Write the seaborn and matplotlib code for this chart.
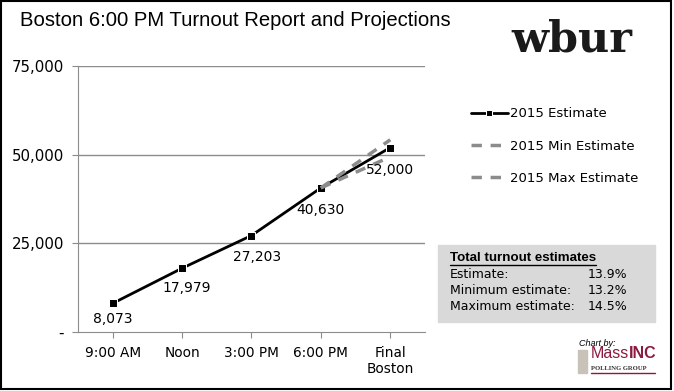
import pandas as pd
import numpy as np
import matplotlib.pyplot as plt
import seaborn as sns
from matplotlib.patches import Rectangle

# -----------------------------
# Data
# -----------------------------
times = ["9:00 AM", "Noon", "3:00 PM", "6:00 PM", "Final\nBoston"]
estimate = [8073, 17979, 27203, 40630, 52000]
labels = ["8,073", "17,979", "27,203", "40,630", "52,000"]
min_est = [40630, 49400]
max_est = [40630, 54200]
proj_times = ["6:00 PM", "Final\nBoston"]

box_rows = ["Estimate:", "Minimum estimate:", "Maximum estimate:"]
box_vals = ["13.9%", "13.2%", "14.5%"]

pos = {t: i for i, t in enumerate(times)}
df = pd.DataFrame({"x": [pos[t] for t in times], "turnout": estimate})
df_min = pd.DataFrame({"x": [pos[t] for t in proj_times], "turnout": min_est})
df_max = pd.DataFrame({"x": [pos[t] for t in proj_times], "turnout": max_est})

# -----------------------------
# Plot
# -----------------------------
sns.set_style("white")
plt.rcParams["font.family"] = ["DejaVu Sans"]
plt.rcParams["text.color"] = "black"
plt.rcParams["xtick.labelcolor"] = "black"
plt.rcParams["ytick.labelcolor"] = "black"
narrow = ["Liberation Sans", "DejaVu Sans"]

fig = plt.figure(figsize=(6.74, 3.91), dpi=100)
ax = fig.add_axes([78 / 674, 1 - 332 / 391, (425 - 78) / 674, (332 - 66) / 391])

sns.lineplot(data=df, x="x", y="turnout", ax=ax, color="black", lw=2,
             marker="s", markersize=6, label="2015 Estimate", zorder=2)
sns.lineplot(data=df_min, x="x", y="turnout", ax=ax, color="#8c8c8c",
             lw=2.5, label="2015 Min Estimate", zorder=3)
sns.lineplot(data=df_max, x="x", y="turnout", ax=ax, color="#8c8c8c",
             lw=2.5, label="2015 Max Estimate", zorder=3)
ax.lines[1].set_linestyle((0, (3, 2.5)))
ax.lines[2].set_linestyle((0, (3, 2.5)))

ax.set_xlim(-0.5, 4.5)
ax.set_ylim(0, 75000)
ax.set_yticks([0, 25000, 50000, 75000])
ax.set_yticklabels(["-", "25,000", "50,000", "75,000"], fontsize=10.8)
ax.set_xticks(range(len(times)))
ax.set_xticklabels(times, fontsize=9.8)
ax.set_xlabel("")
ax.set_ylabel("")
for y in [25000, 50000, 75000]:
    ax.axhline(y, color="#8c8c8c", lw=1, zorder=0)
for s in ["top", "right"]:
    ax.spines[s].set_visible(False)
ax.spines["left"].set_color("#8c8c8c")
ax.spines["bottom"].set_color("#8c8c8c")
ax.tick_params(axis="both", length=4, color="#8c8c8c", direction="out",
               left=True, bottom=True, pad=6, labelcolor="black")

offsets = [(0, -11), (3, -14), (4, -15.5), (0, -16), (0, -16)]
for i, (lab, (dx, dy)) in enumerate(zip(labels, offsets)):
    ax.annotate(lab, (i, estimate[i]), xytext=(dx, dy), textcoords="offset points",
                ha="center", va="center", fontsize=10, color="black")

# legend
leg = ax.legend(loc="center left", bbox_to_anchor=(459 / 674, 1 - 146 / 391),
                bbox_transform=fig.transFigure, frameon=False, fontsize=9.5,
                labelspacing=1.45, handlelength=2.8, handletextpad=0.15)
leg.get_lines()[0].set_markersize(5)
for t in leg.get_texts():
    t.set_color("black")

# title and logo
fig.text(20 / 674, 1 - 20 / 391, "Boston 6:00 PM Turnout Report and Projections",
         fontsize=14.6, family=narrow, va="center")
fig.text(511 / 674, 1 - 40 / 391, "wbur", fontsize=31, fontweight="bold",
         family=["DejaVu Serif"], color="#1a1a1a", va="center")

# summary box
fig.patches.append(Rectangle((438 / 674, 1 - 322 / 391), 217 / 674, 77 / 391,
                             transform=fig.transFigure, color="#d9d9d9", zorder=0))
fig.text(450 / 674, 1 - 258 / 391, "Total turnout estimates", fontsize=9.6,
         fontweight="bold", va="center", family=narrow)
fig.add_artist(plt.Line2D([450 / 674, 596 / 674], [1 - 265 / 391, 1 - 265 / 391],
                          transform=fig.transFigure, color="black", lw=1))
for k, (r, v) in enumerate(zip(box_rows, box_vals)):
    yy = 1 - (275 + k * 15.5) / 391
    fig.text(450 / 674, yy, r, fontsize=9, va="center")
    fig.text(588 / 674, yy, v, fontsize=9, va="center")

# MassINC credit
fig.text(579 / 674, 1 - 343 / 391, "Chart by:", fontsize=6.5, style="italic",
         family=narrow, va="center")
fig.patches.append(Rectangle((578 / 674, 1 - 373 / 391), 9 / 674, 23 / 391,
                             transform=fig.transFigure, color="#c9c2b8"))
mass = fig.text(591 / 674, 1 - 358 / 391, "Mass", fontsize=11.5, color="#8b1a3e",
                family=narrow, va="baseline")
ax.annotate("INC", xy=(1, 0), xycoords=mass, xytext=(0, 0), textcoords="offset points",
            fontsize=11.5, color="#8b1a3e", fontweight="bold", family=narrow,
            va="bottom", ha="left", annotation_clip=False)
fig.text(591 / 674, 1 - 368 / 391, "POLLING GROUP", fontsize=4.8, color="#333333",
         family=["Liberation Serif", "DejaVu Serif"], fontweight="bold", va="center")
fig.add_artist(plt.Line2D([591 / 674, 655 / 674], [1 - 373 / 391, 1 - 373 / 391],
                          transform=fig.transFigure, color="#8b1a3e", lw=1))

# frame
fig.patches.append(Rectangle((0.002, 0.004), 0.993, 0.993, transform=fig.transFigure,
                             fill=False, edgecolor="black", lw=1.5))

fig.savefig("out.png", dpi=100)
